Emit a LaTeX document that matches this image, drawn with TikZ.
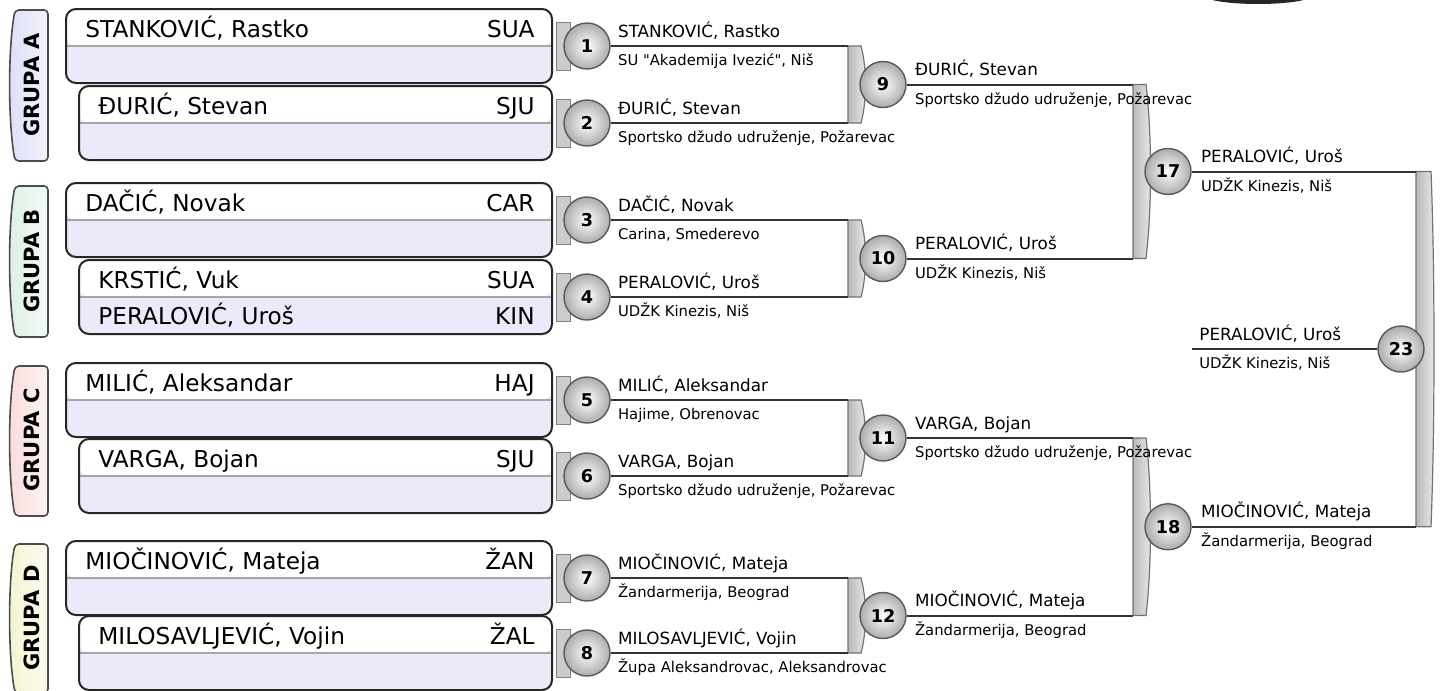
\documentclass[tikz,border=0pt]{standalone}
\usepackage{fontspec}
\setmainfont{DejaVu Sans}[Ligatures=TeXOff]
\usetikzlibrary{positioning}

\definecolor{rowLav}{RGB}{236,234,250}
\definecolor{tabA}{RGB}{222,222,248}
\definecolor{tabB}{RGB}{220,240,228}
\definecolor{tabC}{RGB}{250,220,220}
\definecolor{tabD}{RGB}{244,244,208}

\begin{document}
\begin{tikzpicture}[
    x=0.5pt, y=-0.5pt,
    playerBox/.style={
        rectangle,
        rounded corners=5pt,
        draw=black!85,
        line width=1pt,
        fill=rowLav,
        minimum height=37pt,
        inner sep=0pt,
        anchor=east,
        path picture={
            \fill[white] (path picture bounding box.north west) rectangle (path picture bounding box.east);
            \draw[gray!70, line width=0.6pt] (path picture bounding box.west) -- (path picture bounding box.east);
        }
    },
    tabShape/.style={
        draw=black!70,
        line width=0.8pt,
        rounded corners=2pt
    },
    groupText/.style={
        font=\fontsize{10.5}{12}\selectfont\bfseries,
        rotate=90,
        inner sep=0pt
    },
    bigName/.style={
        font=\fontsize{11.6}{14}\selectfont,
        inner sep=0pt
    },
    ball/.style={
        circle,
        minimum size=23pt,
        inner sep=0pt,
        draw=black!65,
        line width=0.7pt,
        inner color=white,
        outer color=gray!65,
        font=\fontsize{8.8}{10}\selectfont\bfseries
    },
    stub/.style={
        draw=black!50,
        fill=gray!40,
        line width=0.5pt
    },
    barShape/.style={
        draw=black!55,
        line width=0.6pt,
        left color=gray!55,
        right color=gray!15
    },
    wire/.style={
        draw=black!80,
        line width=1pt
    },
    winName/.style={
        font=\fontsize{8.4}{10}\selectfont,
        inner sep=0pt,
        anchor=base west
    },
    winClub/.style={
        font=\fontsize{7.4}{9}\selectfont,
        inner sep=0pt,
        anchor=base west
    }
]
\useasboundingbox (0,0) rectangle (1441,691);

% Grupa A
\draw[tabShape, left color=tabA, right color=tabA!35] (48,10) -- (15,10) .. controls (8,50) and (8,120) .. (15,161) -- (48,161) -- cycle;
\node[groupText] (ga) at (32,85) {GRUPA A};
\node[playerBox, minimum width=243pt] (p1) at (553,46) {};
\node[playerBox, minimum width=236.5pt] (p2) at (553,123) {};
\node[bigName, anchor=base west] (n1) at ([xshift=10pt, yshift=4.5pt]p1.west) {STANKOVIĆ, Rastko};
\node[bigName, anchor=base east] (k1) at ([xshift=-9pt, yshift=4.5pt]p1.east) {SUA};
\node[bigName, anchor=base west] (n2) at ([xshift=10pt, yshift=4.5pt]p2.west) {ĐURIĆ, Stevan};
\node[bigName, anchor=base east] (k2) at ([xshift=-9pt, yshift=4.5pt]p2.east) {SJU};

% Grupa B
\draw[tabShape, left color=tabB, right color=tabB!30] (48,186) -- (15,186) .. controls (8,224) and (8,298) .. (15,337) -- (48,337) -- cycle;
\node[groupText] (gb) at (32,261) {GRUPA B};
\node[playerBox, minimum width=243pt] (p3) at (553,220) {};
\node[playerBox, minimum width=236.5pt] (p4) at (553,297) {};
\node[bigName, anchor=base west] (n3) at ([xshift=10pt, yshift=4.5pt]p3.west) {DAČIĆ, Novak};
\node[bigName, anchor=base east] (k3) at ([xshift=-9pt, yshift=4.5pt]p3.east) {CAR};
\node[bigName, anchor=base west] (n4) at ([xshift=10pt, yshift=4.5pt]p4.west) {KRSTIĆ, Vuk};
\node[bigName, anchor=base east] (k4) at ([xshift=-9pt, yshift=4.5pt]p4.east) {SUA};
\node[bigName, anchor=base west] (n4b) at ([xshift=10pt, yshift=-13.5pt]p4.west) {PERALOVIĆ, Uroš};
\node[bigName, anchor=base east] (k4b) at ([xshift=-9pt, yshift=-13.5pt]p4.east) {KIN};

% Grupa C
\draw[tabShape, left color=tabC, right color=tabC!35] (48,366) -- (15,366) .. controls (8,404) and (8,477) .. (15,516) -- (48,516) -- cycle;
\node[groupText] (gc) at (32,440) {GRUPA C};
\node[playerBox, minimum width=243pt] (p5) at (553,400) {};
\node[playerBox, minimum width=236.5pt] (p6) at (553,476) {};
\node[bigName, anchor=base west] (n5) at ([xshift=10pt, yshift=4.5pt]p5.west) {MILIĆ, Aleksandar};
\node[bigName, anchor=base east] (k5) at ([xshift=-9pt, yshift=4.5pt]p5.east) {HAJ};
\node[bigName, anchor=base west] (n6) at ([xshift=10pt, yshift=4.5pt]p6.west) {VARGA, Bojan};
\node[bigName, anchor=base east] (k6) at ([xshift=-9pt, yshift=4.5pt]p6.east) {SJU};

% Grupa D
\draw[tabShape, left color=tabD, right color=tabD!35] (48,544) -- (15,544) .. controls (8,582) and (8,654) .. (15,693) -- (48,693) -- cycle;
\node[groupText] (gd) at (32,618) {GRUPA D};
\node[playerBox, minimum width=243pt] (p7) at (553,578) {};
\node[playerBox, minimum width=236.5pt] (p8) at (553,653) {};
\node[bigName, anchor=base west] (n7) at ([xshift=10pt, yshift=4.5pt]p7.west) {MIOČINOVIĆ, Mateja};
\node[bigName, anchor=base east] (k7) at ([xshift=-9pt, yshift=4.5pt]p7.east) {ŽAN};
\node[bigName, anchor=base west] (n8) at ([xshift=10pt, yshift=4.5pt]p8.west) {MILOSAVLJEVIĆ, Vojin};
\node[bigName, anchor=base east] (k8) at ([xshift=-9pt, yshift=4.5pt]p8.east) {ŽAL};

% prvo kolo
\draw[stub] (556,22) rectangle (570,70);
\draw[stub] (556,99) rectangle (570,147);
\draw[stub] (556,196) rectangle (570,244);
\draw[stub] (556,273) rectangle (570,321);
\draw[stub] (556,376) rectangle (570,424);
\draw[stub] (556,452) rectangle (570,500);
\draw[stub] (556,554) rectangle (570,602);
\draw[stub] (556,629) rectangle (570,677);

\coordinate (b9t) at (848,46);
\coordinate (b9b) at (848,123);
\coordinate (b10t) at (848,220);
\coordinate (b10b) at (848,297);
\coordinate (b11t) at (848,400);
\coordinate (b11b) at (848,476);
\coordinate (b12t) at (848,578);
\coordinate (b12b) at (848,653);
\coordinate (b17t) at (1133,84.5);
\coordinate (b17b) at (1133,258.5);
\coordinate (b18t) at (1133,438);
\coordinate (b18b) at (1133,615.5);
\coordinate (b23t) at (1416,171.5);
\coordinate (b23b) at (1416,526.75);
\coordinate (f23) at (1192,349);

\draw[barShape] (b9t) -- ++(13,0) .. controls +(6,22) and +(6,-22) .. ([xshift=6.5pt]b9b) -- (b9b) -- cycle;
\draw[barShape] (b10t) -- ++(13,0) .. controls +(6,22) and +(6,-22) .. ([xshift=6.5pt]b10b) -- (b10b) -- cycle;
\draw[barShape] (b11t) -- ++(13,0) .. controls +(6,22) and +(6,-22) .. ([xshift=6.5pt]b11b) -- (b11b) -- cycle;
\draw[barShape] (b12t) -- ++(13,0) .. controls +(6,22) and +(6,-22) .. ([xshift=6.5pt]b12b) -- (b12b) -- cycle;
\draw[barShape] (b17t) -- ++(13,0) .. controls +(6,50) and +(6,-50) .. ([xshift=6.5pt]b17b) -- (b17b) -- cycle;
\draw[barShape] (b18t) -- ++(13,0) .. controls +(6,50) and +(6,-50) .. ([xshift=6.5pt]b18b) -- (b18b) -- cycle;
\draw[barShape] (b23t) -- ++(15,0) .. controls +(4,100) and +(4,-100) .. ([xshift=7.5pt]b23b) -- (b23b) -- cycle;

\node[ball] (m1) at (587,46) {1};
\node[ball] (m2) at (587,123) {2};
\node[ball] (m3) at (587,220) {3};
\node[ball] (m4) at (587,297) {4};
\node[ball] (m5) at (587,400) {5};
\node[ball] (m6) at (587,476) {6};
\node[ball] (m7) at (587,578) {7};
\node[ball] (m8) at (587,653) {8};
\node[ball] (m9) at (883,84.5) {9};
\node[ball] (m10) at (883,258.5) {10};
\node[ball] (m11) at (883,438) {11};
\node[ball] (m12) at (883,615.5) {12};
\node[ball] (m17) at (1168,171.5) {17};
\node[ball] (m18) at (1168,526.75) {18};
\node[ball] (m23) at (1401,349) {23};

\draw[wire] (m1) -- (b9t);
\draw[wire] (m2) -- (b9b);
\draw[wire] (m3) -- (b10t);
\draw[wire] (m4) -- (b10b);
\draw[wire] (m5) -- (b11t);
\draw[wire] (m6) -- (b11b);
\draw[wire] (m7) -- (b12t);
\draw[wire] (m8) -- (b12b);
\draw[wire] (m9) -- (b17t);
\draw[wire] (m10) -- (b17b);
\draw[wire] (m11) -- (b18t);
\draw[wire] (m12) -- (b18b);
\draw[wire] (m17) -- (b23t);
\draw[wire] (m18) -- (b23b);
\draw[wire] (m23) -- (f23);

% pobednici
\node[winName] (w1) at ([xshift=3.5pt, yshift=4.5pt]m1.east) {STANKOVIĆ, Rastko};
\node[winClub] (c1) at ([xshift=3.5pt, yshift=-9.75pt]m1.east) {SU "Akademija Ivezić", Niš};
\node[winName] (w2) at ([xshift=3.5pt, yshift=4.5pt]m2.east) {ĐURIĆ, Stevan};
\node[winClub] (c2) at ([xshift=3.5pt, yshift=-9.75pt]m2.east) {Sportsko džudo udruženje, Požarevac};
\node[winName] (w3) at ([xshift=3.5pt, yshift=4.5pt]m3.east) {DAČIĆ, Novak};
\node[winClub] (c3) at ([xshift=3.5pt, yshift=-9.75pt]m3.east) {Carina, Smederevo};
\node[winName] (w4) at ([xshift=3.5pt, yshift=4.5pt]m4.east) {PERALOVIĆ, Uroš};
\node[winClub] (c4) at ([xshift=3.5pt, yshift=-9.75pt]m4.east) {UDŽK Kinezis, Niš};
\node[winName] (w5) at ([xshift=3.5pt, yshift=4.5pt]m5.east) {MILIĆ, Aleksandar};
\node[winClub] (c5) at ([xshift=3.5pt, yshift=-9.75pt]m5.east) {Hajime, Obrenovac};
\node[winName] (w6) at ([xshift=3.5pt, yshift=4.5pt]m6.east) {VARGA, Bojan};
\node[winClub] (c6) at ([xshift=3.5pt, yshift=-9.75pt]m6.east) {Sportsko džudo udruženje, Požarevac};
\node[winName] (w7) at ([xshift=3.5pt, yshift=4.5pt]m7.east) {MIOČINOVIĆ, Mateja};
\node[winClub] (c7) at ([xshift=3.5pt, yshift=-9.75pt]m7.east) {Žandarmerija, Beograd};
\node[winName] (w8) at ([xshift=3.5pt, yshift=4.5pt]m8.east) {MILOSAVLJEVIĆ, Vojin};
\node[winClub] (c8) at ([xshift=3.5pt, yshift=-9.75pt]m8.east) {Župa Aleksandrovac, Aleksandrovac};
\node[winName] (w9) at ([xshift=4pt, yshift=4.5pt]m9.east) {ĐURIĆ, Stevan};
\node[winClub] (c9) at ([xshift=4pt, yshift=-9.75pt]m9.east) {Sportsko džudo udruženje, Požarevac};
\node[winName] (w10) at ([xshift=4pt, yshift=4.5pt]m10.east) {PERALOVIĆ, Uroš};
\node[winClub] (c10) at ([xshift=4pt, yshift=-9.75pt]m10.east) {UDŽK Kinezis, Niš};
\node[winName] (w11) at ([xshift=4pt, yshift=4.5pt]m11.east) {VARGA, Bojan};
\node[winClub] (c11) at ([xshift=4pt, yshift=-9.75pt]m11.east) {Sportsko džudo udruženje, Požarevac};
\node[winName] (w12) at ([xshift=4pt, yshift=4.5pt]m12.east) {MIOČINOVIĆ, Mateja};
\node[winClub] (c12) at ([xshift=4pt, yshift=-9.75pt]m12.east) {Žandarmerija, Beograd};
\node[winName] (w17) at ([xshift=4.5pt, yshift=4.5pt]m17.east) {PERALOVIĆ, Uroš};
\node[winClub] (c17) at ([xshift=4.5pt, yshift=-9.75pt]m17.east) {UDŽK Kinezis, Niš};
\node[winName] (w18) at ([xshift=4.5pt, yshift=4.5pt]m18.east) {MIOČINOVIĆ, Mateja};
\node[winClub] (c18) at ([xshift=4.5pt, yshift=-9.75pt]m18.east) {Žandarmerija, Beograd};
\node[winName] (w23) at ([xshift=3.5pt, yshift=4.5pt]f23) {PERALOVIĆ, Uroš};
\node[winClub] (c23) at ([xshift=3.5pt, yshift=-9.75pt]f23) {UDŽK Kinezis, Niš};

\fill[black!85] (1258,-5) ellipse [x radius=27.5pt, y radius=4.5pt];
\end{tikzpicture}
\end{document}
